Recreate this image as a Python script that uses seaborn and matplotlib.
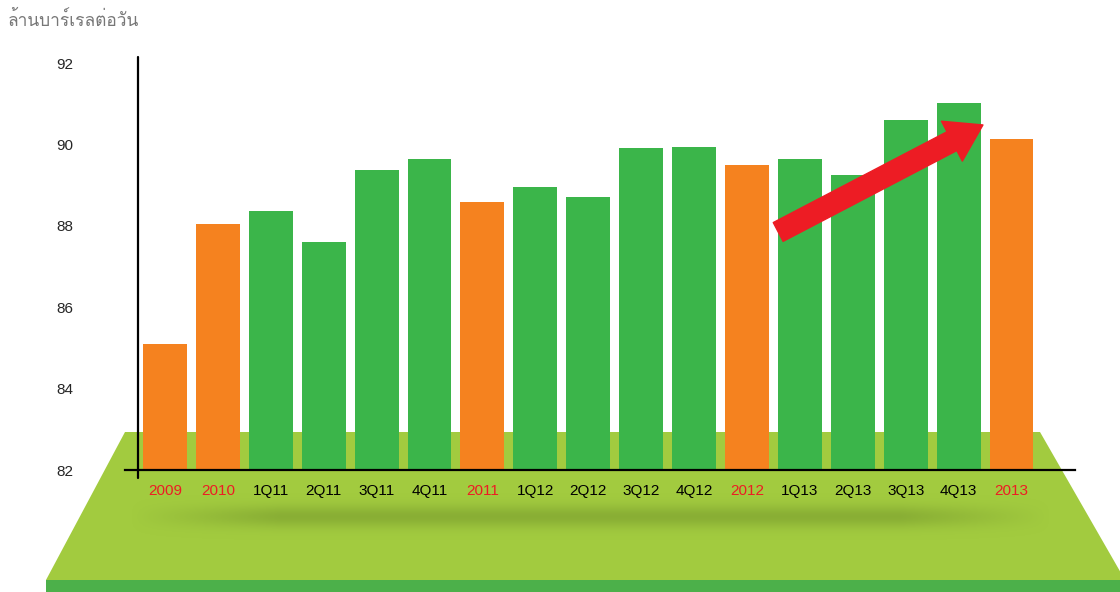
import numpy as np
import pandas as pd
import seaborn as sns
from matplotlib import pyplot as plt
from matplotlib import font_manager
from matplotlib.ft2font import FT2Font
from matplotlib.patches import Polygon, Rectangle

# Data (million barrels per day)
labels = ['2009', '2010', '1Q11', '2Q11', '3Q11', '4Q11', '2011', '1Q12', '2Q12',
          '3Q12', '4Q12', '2012', '1Q13', '2Q13', '3Q13', '4Q13', '2013']
values = [85.1, 88.05, 88.36, 87.6, 89.37, 89.64, 88.58, 88.95, 88.71,
          89.91, 89.94, 89.49, 89.64, 89.25, 90.6, 91.02, 90.13]
kinds = ['year' if 'Q' not in s else 'quarter' for s in labels]
y_ticks = [82, 84, 86, 88, 90, 92]
title = 'ล้านบาร์เรลต่อวัน'

orange = '#F5821F'
green = '#3BB54A'
red = '#ED1C24'

df = pd.DataFrame({'label': labels, 'value': values, 'kind': kinds})


def find_thai_font():
    for f in font_manager.fontManager.ttflist:
        try:
            if ord('ล') in FT2Font(f.fname).get_charmap():
                return f.name
        except Exception:
            pass
    return 'DejaVu Sans'


sns.set_style('white')
plt.rcParams['font.family'] = ['Liberation Sans', 'DejaVu Sans']

W, H = 1120, 592
fig = plt.figure(figsize=(W / 100, H / 100), dpi=100)

# background "floor" drawn in pixel coordinates
bg = fig.add_axes([0, 0, 1, 1], zorder=0)
bg.set_xlim(0, W)
bg.set_ylim(H, 0)
bg.axis('off')
bg.add_patch(Polygon([[125, 432], [1040, 432], [1125, 580], [46, 580]],
                     closed=True, color='#A2CB3F', lw=0, zorder=1))
bg.add_patch(Rectangle((46, 580), W, 12, color='#4CB04A', lw=0, zorder=1))

# soft shadow under the bars
yy, xx = np.mgrid[488:548, 120:1060]
alpha = np.exp(-((yy - 516) / 11.0) ** 2)
ramp = np.clip((xx - 130) / 150, 0, 1) * np.clip((1050 - xx) / 150, 0, 1)
shadow = np.zeros(yy.shape + (4,))
shadow[..., 0] = 0.42
shadow[..., 1] = 0.55
shadow[..., 2] = 0.16
shadow[..., 3] = 0.45 * alpha * ramp
bg.imshow(shadow, extent=(120, 1060, 548, 488), aspect='auto',
          interpolation='bilinear', zorder=2)
bg.set_xlim(0, W)
bg.set_ylim(H, 0)

# main chart
ax = fig.add_axes([125 / W, (H - 470) / H, 950 / W, 413 / H], zorder=1)
ax.patch.set_alpha(0)
sns.barplot(data=df, x='label', y='value', hue='kind',
            palette={'year': orange, 'quarter': green},
            dodge=False, legend=False, width=0.83, saturation=1,
            linewidth=0, edgecolor='none', ax=ax)

ax.set_xlim(-0.756, 17.2)
ax.set_ylim(82, 92.15)
ax.set_yticks(y_ticks)
ax.set_yticklabels([str(v) for v in y_ticks], fontsize=11)
ax.tick_params(axis='y', length=0, pad=37)
ax.tick_params(axis='x', length=0, pad=10, labelsize=11)
for lab in ax.get_xticklabels():
    lab.set_color(red if 'Q' not in lab.get_text() else 'black')
ax.set_xlabel('')
ax.set_ylabel('')

for side in ['top', 'right', 'left']:
    ax.spines[side].set_visible(False)
ax.spines['bottom'].set_color('black')
ax.spines['bottom'].set_linewidth(1.6)
ax.axvline(-0.51, ymin=-0.02, ymax=1, color='black', lw=1.6, clip_on=False)

# red trend arrow
ax.annotate('', xy=(15.46, 90.48), xytext=(11.59, 87.85),
            arrowprops=dict(arrowstyle='simple,head_length=1.4,head_width=1.8,tail_width=0.85',
                            mutation_scale=18, color=red, shrinkA=0, shrinkB=0))

fig.text(8 / W, 1 - 20 / H, title, fontsize=12.5, color='#777777', va='center', ha='left',
         family=[find_thai_font(), 'DejaVu Sans'])

plt.savefig('out.png', dpi=100)
